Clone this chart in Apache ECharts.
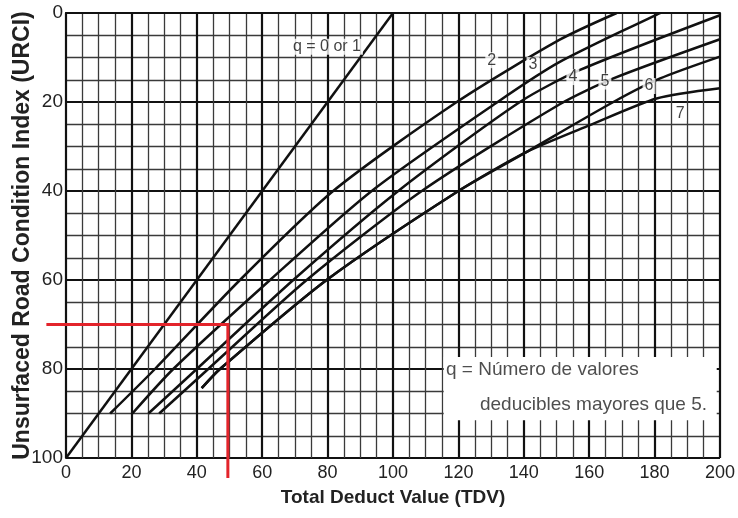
<!DOCTYPE html>
<html>
<head>
<meta charset="utf-8">
<script src="https://cdn.jsdelivr.net/npm/echarts@6.0.0/dist/echarts.min.js"></script>
<style>
html,body{margin:0;padding:0;background:#fff;}
#chart{width:738px;height:518px;}
</style>
</head>
<body>
<div id="chart"></div>
<script>
// ---- data (TDV, URCI) ----
var xTicks = [0, 20, 40, 60, 80, 100, 120, 140, 160, 180, 200];
var yTicks = [0, 20, 40, 60, 80, 100];

var q01 = [[0, 100], [100, 0]];
var q2 = [[13.5, 90], [27.2, 80], [53.2, 60], [81.7, 40], [119.5, 20], [151, 6], [168.4, 0]];
var q3 = [[20.3, 90], [32.8, 80], [62.4, 60], [93.5, 40], [132, 20], [151, 11], [181.7, 0]];
var q4 = [[25.2, 90], [40, 80], [69.5, 60], [101.6, 40], [138.8, 20], [157.2, 12.8], [200, 0.5]];
var q5 = [[28.5, 90], [43.5, 80], [73.6, 60], [108.8, 40], [151, 20.5], [167.4, 14.7], [200, 5.9]];
var q6 = [[41.5, 84.3], [47.1, 80], [79.7, 60], [120, 40], [140.9, 31.2], [167.4, 20], [181.7, 14.7], [200, 9.8]];
var q7 = [[41.5, 84.3], [47.1, 80], [79.7, 60], [120, 40], [140.9, 31.2], [160.2, 25.2], [180.6, 19.2], [200, 16.9]];

var curveLabels = ['q = 0 or 1', '2', '3', '4', '5', '6', '7'];
var curveLabelAt = [[79.8, 7.6], [130.2, 10.6], [142.8, 11.7], [155, 14.4], [164.8, 15.4], [178.3, 16.4], [187.8, 22.5]];

var example = [[-6, 70], [49.5, 70], [49.5, 104.5]];

var noteLines = ['q = Número de valores', 'deducibles mayores que 5.'];
var noteAt = [[116.2, 80.2], [126.6, 88.1]];
var noteBox = [[115.5, 77.3], [199, 91.5]];

var FONT = 'Liberation Sans, Arial, sans-serif';

var chart = echarts.init(document.getElementById('chart'), null, {renderer: 'canvas'});

function curve(name, data) {
  return {
    name: name, type: 'line', data: data, showSymbol: false, smooth: 0.25,
    lineStyle: {color: '#111', width: 2.5}, z: 3, silent: true
  };
}

var option = {
  animation: false,
  backgroundColor: '#fff',
  grid: {left: 66, right: 18, top: 13, bottom: 60, containLabel: false, outerBoundsMode: 'none'},
  xAxis: {
    type: 'value', min: 0, max: 200, interval: 20,
    name: 'Total Deduct Value (TDV)', nameLocation: 'middle', nameGap: 30, nameMoveOverlap: false,
    nameTextStyle: {fontSize: 19, fontWeight: 'bold', color: '#222', fontFamily: FONT},
    axisLine: {show: true, lineStyle: {color: '#111', width: 2}},
    axisTick: {show: false},
    axisLabel: {
      fontSize: 18, color: '#222', fontFamily: FONT, margin: 6,
      formatter: function (v) { return xTicks.indexOf(v) >= 0 ? String(v) : ''; }
    },
    splitLine: {show: true, lineStyle: {color: '#111', width: 2.2}},
    minorTick: {show: false, splitNumber: 4},
    minorSplitLine: {show: true, lineStyle: {color: '#3a3a3a', width: 1.3}}
  },
  yAxis: {
    type: 'value', min: 0, max: 100, interval: 20, inverse: true,
    name: 'Unsurfaced Road Condition Index (URCI)', nameLocation: 'middle', nameGap: 32, nameRotate: 90,
    nameMoveOverlap: false,
    nameTextStyle: {fontSize: 23, fontWeight: 'bold', color: '#222', fontFamily: FONT},
    axisLine: {show: true, lineStyle: {color: '#111', width: 2}},
    axisTick: {show: false},
    axisLabel: {
      fontSize: 19, color: '#222', fontFamily: FONT, margin: 3,
      formatter: function (v) { return yTicks.indexOf(v) >= 0 ? String(v) : ''; }
    },
    splitLine: {show: true, lineStyle: {color: '#111', width: 2.2}},
    minorTick: {show: false, splitNumber: 4},
    minorSplitLine: {show: true, lineStyle: {color: '#3a3a3a', width: 1.3}}
  },
  series: [
    {
      name: 'note', type: 'scatter', symbolSize: 0, z: 6, silent: true,
      data: noteAt.map(function (p, i) { return {value: p, name: noteLines[i]}; }),
      label: {
        show: true, position: 'right', distance: 0, formatter: '{b}',
        fontSize: 19, color: '#222', fontFamily: FONT
      },
      markArea: {
        silent: true, z: 1,
        itemStyle: {color: '#fff', opacity: 1},
        data: [[{coord: noteBox[0]}, {coord: noteBox[1]}]]
      }
    },
    curve('q=0 or 1', q01),
    curve('q=2', q2),
    curve('q=3', q3),
    curve('q=4', q4),
    curve('q=5', q5),
    curve('q=6', q6),
    curve('q=7', q7),
    {
      name: 'labels', type: 'scatter', symbolSize: 0, z: 5, silent: true,
      data: curveLabelAt.map(function (p, i) { return {value: p, name: curveLabels[i]}; }),
      label: {
        show: true, position: 'inside', formatter: '{b}',
        fontSize: 16, color: '#111', fontFamily: FONT,
        backgroundColor: '#fff', padding: [0, 2, 0, 2]
      }
    }
  ]
};
chart.setOption(option);

// example read-off line (extends beyond the plot area): placed through the chart's own scales
var redPts = example.map(function (p) { return chart.convertToPixel({gridIndex: 0}, p); });
chart.setOption({
  graphic: [{
    type: 'polyline', z: 100, silent: true,
    shape: {points: redPts},
    style: {stroke: '#e3242b', lineWidth: 3, fill: null}
  }]
});
</script>
</body>
</html>
